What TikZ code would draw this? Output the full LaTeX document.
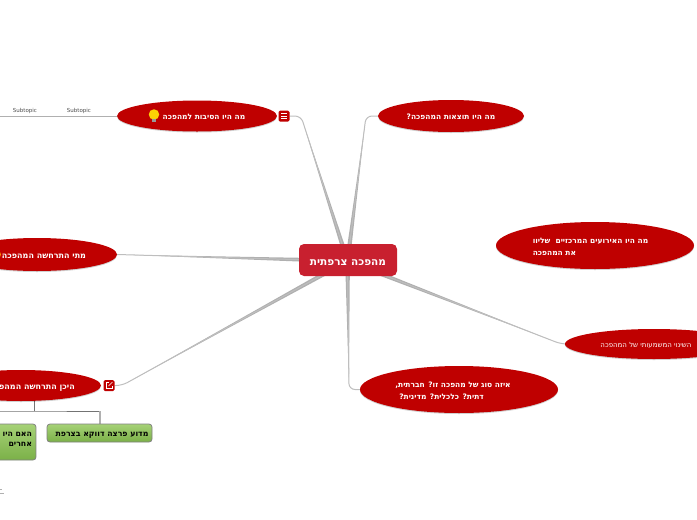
\documentclass[tikz,border=0pt]{standalone}
\usepackage{fontspec}
\usepackage{xcolor}
\usepackage{tikz}
\usetikzlibrary{calc, shapes.geometric, positioning, backgrounds, shadows}
\setmainfont{DejaVu Sans}
\newfontfamily\hebfont[Script=Hebrew]{DejaVu Sans}
\TeXXeTstate=1
\definecolor{topicred}{HTML}{BF0000}
\definecolor{hubred}{HTML}{C8202F}
\definecolor{linegray}{HTML}{B0B0B0}
\definecolor{thingray}{HTML}{BEBEBE}
\definecolor{Gtop}{HTML}{A6D277}
\definecolor{Gbot}{HTML}{7BB048}
\newcommand{\heb}[1]{\leavevmode\raisebox{-1.7pt}[6pt][2pt]{\beginR #1\endR}}
% nhánh thon dần từ tâm
\newcommand{\branchline}[1]{\fill[linegray] ($(hub)!2.4pt!90:(#1)$) -- ($(hub)!0.95!(#1)$) -- ($(hub)!2.4pt!-90:(#1)$) -- cycle;}
\tikzset{
    topic/.style={ellipse, fill=topicred, inner sep=0pt, text=white, align=left,
        font=\hebfont\bfseries\fontsize{7.5}{12}\selectfont,
        drop shadow={shadow xshift=0pt, shadow yshift=-1pt, opacity=0.18, fill=black}},
    subtask/.style={rectangle, rounded corners=3pt, draw=black!50, line width=0.8pt,
        top color=Gtop, bottom color=Gbot,
        inner sep=0pt, text=black, font=\hebfont\bfseries\fontsize{7.8}{10}\selectfont},
    iconbox/.style={rectangle, rounded corners=1.5pt, fill=topicred, minimum size=11pt, inner sep=0pt},
    smalllabel/.style={font=\fontsize{5.5}{6}\selectfont, text=black!70, inner sep=0pt},
    branch/.style={draw=thingray, line width=1pt, rounded corners=6pt},
    stem/.style={draw=black!55, line width=0.8pt}
}
\begin{document}
\begin{tikzpicture}[x=1pt, y=-1pt, >=latex]
    \useasboundingbox (0,0) rectangle (697,520);

    % Tâm
    \node[rectangle, rounded corners=5pt, fill=hubred, minimum width=98pt, minimum height=32pt,
        inner sep=0pt, text=white, font=\hebfont\bfseries\fontsize{10.5}{12}\selectfont]
        (main) at (348,260) {\raisebox{-3pt}[8pt][2.5pt]{\beginR מהפכה צרפתית\endR}};
    \coordinate (hub) at (347.5,261);

    % Các chủ đề
    \node[topic, minimum width=160pt, minimum height=31pt] (causes) at (197,116)
        {\hspace*{14pt}\heb{מה היו הסיבות למהפכה}};
    \node[topic, minimum width=146pt, minimum height=32pt] (results) at (451,116)
        {\heb{מה היו תוצאות המהפכה?}};
    \node[topic, minimum width=198pt, minimum height=47pt] (events) at (595,245.5)
        {\heb{מה היו האירועים המרכזיים\ \ שליוו}\hspace*{9pt}\\\heb{את המהפכה}};
    \node[topic, minimum width=178pt, minimum height=30pt, font=\hebfont\fontsize{7}{12}\selectfont] (change) at (654,344)
        {\heb{השינוי המשמעותי של המהפכה}\hspace*{16pt}};
    \node[topic, minimum width=198pt, minimum height=47pt] (kind) at (459,389.5)
        {\heb{איזה סוג של מהפכה זו? חברתית,}\hspace*{12pt}\\\hspace*{4pt}\heb{דתית? כלכלית? מדינית?}};
    \node[topic, minimum width=160pt, minimum height=33pt, font=\hebfont\bfseries\fontsize{8}{12}\selectfont] (when) at (37,254.5)
        {\hspace*{14pt}\heb{מתי התרחשה המהפכה}};
    \node[topic, minimum width=160pt, minimum height=31pt, font=\hebfont\bfseries\fontsize{8}{12}\selectfont] (where) at (21,385.5)
        {\hspace*{22pt}\heb{היכן התרחשה המהפכה}};

    % Nút xanh
    \node[subtask, minimum width=105pt, minimum height=18pt] (whyfrance) at (99.5,433)
        {\hspace*{5pt}\heb{מדוע פרצה דווקא בצרפת}};
    \node[subtask, minimum width=76pt, minimum height=36pt, align=right, text width=68pt] (others) at (-2,442)
        {\heb{האם היו}\\\heb{אחרים}\\\ };

    % Biểu tượng
    \node[iconbox] (menuicon) at (284,116) {};
    \foreach \dy in {-2.5,0,2.5}
        \draw[white, line width=0.8pt] ([xshift=-3pt, yshift=\dy pt]menuicon.center) -- ([xshift=3pt, yshift=\dy pt]menuicon.center);
    \node[iconbox] (linkicon) at (109,385.5) {};
    \draw[white, line width=0.6pt] ([xshift=0pt, yshift=2.8pt]linkicon.center) -- ([xshift=-3pt, yshift=2.8pt]linkicon.center)
        -- ([xshift=-3pt, yshift=-3pt]linkicon.center) -- ([xshift=3pt, yshift=-3pt]linkicon.center) -- ([xshift=3pt, yshift=0pt]linkicon.center);
    \draw[white, line width=0.6pt] ([xshift=-0.5pt, yshift=-0.5pt]linkicon.center) -- ([xshift=3.5pt, yshift=3.5pt]linkicon.center);
    \node[circle, fill=yellow!70!orange, minimum size=10.5pt, inner sep=0pt] (bulb) at (154,114.5) {};
    \node[rectangle, fill=black!40, minimum width=4.5pt, minimum height=3pt, inner sep=0pt, below=-1pt of bulb] (bulbbase) {};
    \node[circle, fill=orange!90!yellow, minimum size=10pt, inner sep=0pt] (whenbulb) at (-4,254.5) {};

    % Nhãn nhỏ
    \coordinate (leftend) at (0,116);
    \node[smalllabel] (subtopica) at (25,111) {Subtopic};
    \node[smalllabel] (subtopicb) at (79,111) {Subtopic};

    % Đường nối
    \coordinate (bendcauses) at (301,116);
    \coordinate (bendresults) at (366,116);
    \coordinate (bendkind) at (349,389.5);
    \coordinate (bendchange) at (561,344);
    \coordinate (bendwhere) at (122,385.5);
    \coordinate (stemjoin) at (34.5,411);
    \begin{scope}[on background layer]
        \branchline{bendcauses}
        \branchline{bendresults}
        \branchline{bendkind}
        \branchline{bendchange}
        \branchline{bendwhere}
        \branchline{when.east}
        \draw[branch] (hub) -- (bendcauses) -- (menuicon.east);
        \draw[branch] (hub) -- (bendresults) -- (results.west);
        \draw[branch] (hub) -- (bendkind) -- (kind.west);
        \draw[branch] (hub) -- (bendchange) -- (change.west);
        \draw[branch] (hub) -- (bendwhere) -- (linkicon.east);
        \draw[branch] (hub) -- (when.east);
        \draw[draw=linegray, line width=1pt] (leftend) -- (causes.west);
        \draw[stem] (stemjoin) -- (34.5,401);
        \draw[stem] (0,411) -- (stemjoin) -- (100,411);
        \draw[draw=linegray, line width=1.3pt] (100,411) -- (100,424);
        \draw[draw=linegray, line width=0.5pt] (0,493) -- (4,493);
        \draw[draw=linegray, line width=0.5pt] (0,489) -- (2,489);
    \end{scope}
\end{tikzpicture}
\end{document}
